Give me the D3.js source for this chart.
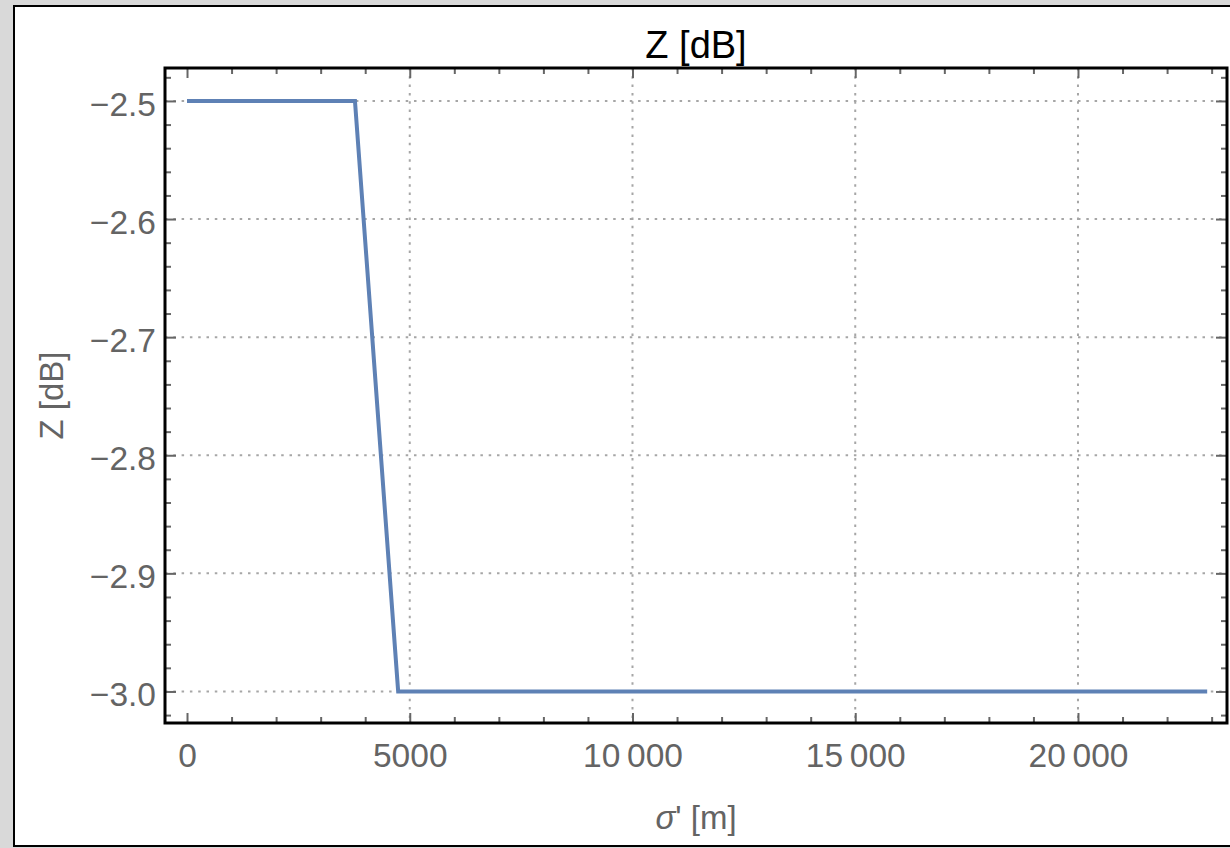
<!DOCTYPE html>
<html>
<head>
<meta charset="utf-8">
<script src="https://cdn.jsdelivr.net/npm/d3@7"></script>
<style>
  body { margin: 0; background: #d9d9d9; }
  svg { display: block; }
  .tick text { font-family: "Liberation Sans", Arial, sans-serif; }
</style>
</head>
<body>
<div class="chart"></div>
<script>
// data
var sigma = [0, 3770, 4740, 22900];
var zdb = [-2.5, -2.5, -3.0, -3.0];
var xMajor = [0, 5000, 10000, 15000, 20000];
var yMajor = [-2.5, -2.6, -2.7, -2.8, -2.9, -3.0];
var xGrid = [5000, 10000, 15000, 20000];

// chart setup
var svgWidth = 1230;
var svgHeight = 848;
var frame = { left: 165, top: 68, right: 1227, bottom: 723 };

var svg = d3.select(".chart")
  .append("svg")
  .attr("width", svgWidth)
  .attr("height", svgHeight);

// white panel
svg.append("rect")
  .attr("x", 14).attr("y", 6)
  .attr("width", 1240).attr("height", 840)
  .attr("fill", "white")
  .attr("stroke", "black")
  .attr("stroke-width", 2);

var xScale = d3.scaleLinear()
  .domain([-494, 23345])
  .range([frame.left, frame.right]);

var yScale = d3.scaleLinear()
  .domain([-2.4721, -3.0267])
  .range([frame.top, frame.bottom]);

var xMinor = d3.range(0, 23001, 1000).filter(d => d % 5000 !== 0);
var yMinor = d3.range(-2.48, -3.021, -0.02).filter(d => Math.abs(Math.round(d * 10) - d * 10) > 1e-6);

// grid lines
var gridColor = "#a6a6a6";
svg.append("g").selectAll("line")
  .data(xGrid).enter().append("line")
  .attr("x1", d => xScale(d)).attr("x2", d => xScale(d))
  .attr("y1", frame.top).attr("y2", frame.bottom)
  .attr("stroke", gridColor).attr("stroke-width", 2)
  .attr("stroke-dasharray", "2.5,5.8");

svg.append("g").selectAll("line")
  .data(yMajor).enter().append("line")
  .attr("x1", frame.left).attr("x2", frame.right)
  .attr("y1", d => yScale(d)).attr("y2", d => yScale(d))
  .attr("stroke", gridColor).attr("stroke-width", 2)
  .attr("stroke-dasharray", "2.5,5.8");

// ticks on all four sides
function tickAxis(axis, vals, size, transform) {
  var g = svg.append("g")
    .attr("transform", transform)
    .call(axis.tickValues(vals).tickSize(size).tickFormat(""));
  g.select(".domain").remove();
  g.selectAll(".tick line").attr("stroke", "#666").attr("stroke-width", 2);
}
tickAxis(d3.axisBottom(xScale), xMajor, -10, `translate(0, ${frame.bottom})`);
tickAxis(d3.axisBottom(xScale), xMinor, -6, `translate(0, ${frame.bottom})`);
tickAxis(d3.axisTop(xScale), xMajor, -10, `translate(0, ${frame.top})`);
tickAxis(d3.axisTop(xScale), xMinor, -6, `translate(0, ${frame.top})`);
tickAxis(d3.axisLeft(yScale), yMajor, -11, `translate(${frame.left}, 0)`);
tickAxis(d3.axisLeft(yScale), yMinor, -6, `translate(${frame.left}, 0)`);
tickAxis(d3.axisRight(yScale), yMajor, -11, `translate(${frame.right}, 0)`);
tickAxis(d3.axisRight(yScale), yMinor, -6, `translate(${frame.right}, 0)`);

// tick labels
var fmtX = d => d >= 10000 ? d3.format("d")(Math.floor(d / 1000)) + "\u2009000" : String(d);
var xLabels = svg.append("g")
  .attr("transform", `translate(0, ${frame.bottom})`)
  .call(d3.axisBottom(xScale).tickValues(xMajor).tickSize(0).tickPadding(20).tickFormat(fmtX));
xLabels.select(".domain").remove();
xLabels.selectAll("text").attr("font-size", 33.5).attr("fill", "#646464");

var yLabels = svg.append("g")
  .attr("transform", `translate(${frame.left}, 0)`)
  .call(d3.axisLeft(yScale).tickValues(yMajor).tickSize(0).tickPadding(9)
    .tickFormat(d => "\u2212" + d3.format(".1f")(-d)));
yLabels.select(".domain").remove();
yLabels.selectAll("text").attr("font-size", 33.5).attr("fill", "#646464").attr("dy", "0.43em");

// line
var line = d3.line()
  .x((d, i) => xScale(sigma[i]))
  .y((d, i) => yScale(zdb[i]));

svg.append("path")
  .datum(sigma)
  .attr("d", line)
  .attr("fill", "none")
  .attr("stroke", "#5e81b5")
  .attr("stroke-width", 4);

// frame
svg.append("rect")
  .attr("x", frame.left).attr("y", frame.top)
  .attr("width", frame.right - frame.left).attr("height", frame.bottom - frame.top)
  .attr("fill", "none")
  .attr("stroke", "black")
  .attr("stroke-width", 3);

// title and axis labels
var cx = (frame.left + frame.right) / 2;
svg.append("text")
  .attr("x", cx).attr("y", 58)
  .attr("text-anchor", "middle")
  .attr("font-family", "Liberation Sans, Arial, sans-serif")
  .attr("font-size", 38)
  .attr("fill", "black")
  .text("Z [dB]");

svg.append("text")
  .attr("transform", `translate(63, ${(frame.top + frame.bottom) / 2}) rotate(-90)`)
  .attr("text-anchor", "middle")
  .attr("font-family", "Liberation Sans, Arial, sans-serif")
  .attr("font-size", 33)
  .attr("fill", "#646464")
  .text("Z [dB]");

var xTitle = svg.append("text")
  .attr("x", cx).attr("y", 829)
  .attr("text-anchor", "middle")
  .attr("font-family", "Liberation Sans, Arial, sans-serif")
  .attr("font-size", 33)
  .attr("fill", "#646464");
xTitle.append("tspan").attr("font-style", "italic").text("\u03c3");
xTitle.append("tspan").text("' [m]");
</script>
</body>
</html>
